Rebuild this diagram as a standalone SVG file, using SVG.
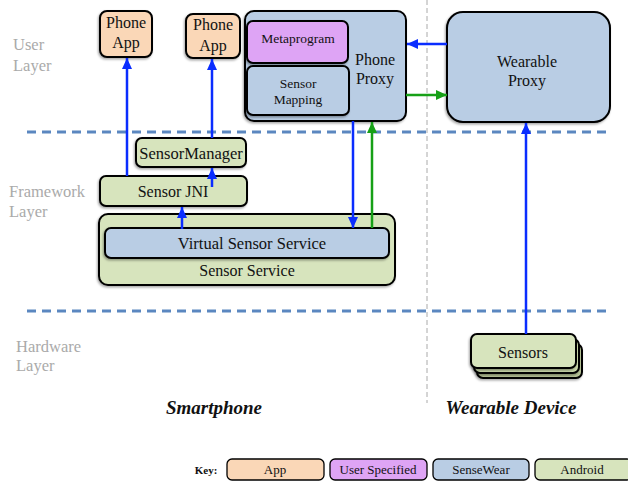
<svg xmlns="http://www.w3.org/2000/svg" width="628" height="483" viewBox="0 0 628 483">
  <style>
    .box { stroke: #000; stroke-width: 2; filter: url(#shade); }
    .app { fill: #fad7b7; }
    .user { fill: #dea4f5; }
    .sw { fill: #b9cde4; }
    .and { fill: #d7e4bd; }
    .t { font-family: "Liberation Serif", "Times New Roman", serif; fill: #111; text-anchor: middle; }
    .layer { font-family: "Liberation Serif", "Times New Roman", serif; fill: #aaa; font-size: 16.5px; }
    .sep { stroke: #5b87c0; stroke-width: 3; stroke-dasharray: 9 6; fill: none; }
    .blue { stroke: #0a2dff; stroke-width: 2.5; fill: none; }
    .green { stroke: #17a017; stroke-width: 2.5; fill: none; }
    .dev { font-family: "Liberation Serif", "Times New Roman", serif; font-size: 19px; font-weight: bold; font-style: italic; text-anchor: middle; fill: #111; }
    .keybox { stroke: #000; stroke-width: 1.3; }
  </style>
  <defs>
    <filter id="shade" x="-10%" y="-10%" width="130%" height="130%">
      <feDropShadow dx="-1" dy="1.5" stdDeviation="1" flood-color="#000" flood-opacity="0.35"/>
    </filter>
    <marker id="hb" markerUnits="userSpaceOnUse" markerWidth="12" markerHeight="12" viewBox="0 0 12 12" refX="11" refY="6" orient="auto">
      <path d="M0,1 L11,6 L0,11 Z" fill="#0a2dff"/>
    </marker>
    <marker id="hg" markerUnits="userSpaceOnUse" markerWidth="12" markerHeight="12" viewBox="0 0 12 12" refX="11" refY="6" orient="auto">
      <path d="M0,1 L11,6 L0,11 Z" fill="#17a017"/>
    </marker>
  </defs>

  <!-- layer separators and device divider -->
  <line class="sep" x1="27" y1="132" x2="612" y2="132"/>
  <line class="sep" x1="27" y1="311" x2="612" y2="311"/>
  <line x1="427" y1="0" x2="427" y2="403" stroke="#aaa" stroke-width="1" stroke-dasharray="5 3"/>

  <!-- layer labels -->
  <text class="layer" x="13" y="50">User</text>
  <text class="layer" x="13" y="71">Layer</text>
  <text class="layer" x="9" y="197">Framework</text>
  <text class="layer" x="9" y="217">Layer</text>
  <text class="layer" x="16" y="352">Hardware</text>
  <text class="layer" x="16" y="371">Layer</text>

  <g id="phone-app-1">
    <rect class="box app" x="100" y="11" width="52" height="46" rx="7"/>
    <text class="t" x="126" y="28" font-size="16">Phone</text>
    <text class="t" x="126" y="48" font-size="16">App</text>
  </g>
  <g id="phone-app-2">
    <rect class="box app" x="186" y="14" width="54" height="44" rx="7"/>
    <text class="t" x="213" y="30" font-size="16">Phone</text>
    <text class="t" x="213" y="51" font-size="16">App</text>
  </g>

  <g id="phone-proxy">
    <rect class="box sw" x="245" y="11" width="161" height="110" rx="9"/>
    <text class="t" x="375" y="65" font-size="16">Phone</text>
    <text class="t" x="375" y="84" font-size="16">Proxy</text>
  </g>
  <g id="metaprogram">
    <rect class="box user" x="247" y="21" width="101" height="42" rx="6"/>
    <text class="t" x="298" y="43" font-size="13.5">Metaprogram</text>
  </g>
  <g id="sensor-mapping">
    <rect class="box sw" x="247" y="66" width="102" height="49" rx="6"/>
    <text class="t" x="298" y="88" font-size="13.5">Sensor</text>
    <text class="t" x="298" y="104" font-size="13.5">Mapping</text>
  </g>

  <g id="wearable-proxy">
    <rect class="box sw" x="447" y="12" width="163" height="110" rx="16"/>
    <text class="t" x="527" y="67" font-size="16">Wearable</text>
    <text class="t" x="527" y="86" font-size="16">Proxy</text>
  </g>

  <g id="sensor-manager">
    <rect class="box and" x="136" y="138" width="110" height="29" rx="6"/>
    <text class="t" x="191" y="159" font-size="16.5">SensorManager</text>
  </g>
  <g id="sensor-jni">
    <rect class="box and" x="100" y="176" width="147" height="30" rx="6"/>
    <text class="t" x="173" y="197" font-size="16">Sensor JNI</text>
  </g>
  <g id="sensor-service">
    <rect class="box and" x="99" y="214" width="296" height="71" rx="9"/>
    <text class="t" x="247" y="276" font-size="16">Sensor Service</text>
  </g>
  <g id="virtual-sensor-service">
    <rect class="box sw" x="105" y="228" width="284" height="30" rx="6"/>
    <text class="t" x="252" y="249" font-size="16.5">Virtual Sensor Service</text>
  </g>

  <g id="sensors">
    <rect class="box" fill="#b7c497" x="477" y="344" width="105" height="34" rx="6"/>
    <rect class="box" fill="#c8d6a9" x="474" y="339" width="105" height="34" rx="6"/>
    <rect class="box and" x="471" y="334" width="105" height="34" rx="6"/>
    <text class="t" x="523" y="358" font-size="16">Sensors</text>
  </g>

  <g id="connectors">
    <line class="blue" x1="127" y1="176" x2="127" y2="58" marker-end="url(#hb)"/>
    <line class="blue" x1="212" y1="138" x2="212" y2="59" marker-end="url(#hb)"/>
    <line class="blue" x1="212" y1="187" x2="212" y2="168" marker-end="url(#hb)"/>
    <line class="blue" x1="182" y1="229" x2="182" y2="207" marker-end="url(#hb)"/>
    <line class="blue" x1="353" y1="121" x2="353" y2="228" marker-end="url(#hb)"/>
    <line class="green" x1="372" y1="228" x2="372" y2="122" marker-end="url(#hg)"/>
    <line class="blue" x1="447" y1="44" x2="407" y2="44" marker-end="url(#hb)"/>
    <line class="green" x1="406" y1="95" x2="447" y2="95" marker-end="url(#hg)"/>
    <line class="blue" x1="526" y1="334" x2="526" y2="123" marker-end="url(#hb)"/>
  </g>

  <!-- device captions -->
  <text class="dev" x="214" y="414">Smartphone</text>
  <text class="dev" x="511" y="414">Wearable Device</text>

  <!-- key -->
  <g id="key">
    <text class="t" x="206" y="474" font-size="11" font-weight="bold">Key:</text>
    <rect class="app keybox" x="227" y="459" width="97" height="21" rx="5"/>
    <text class="t" x="275" y="474" font-size="13">App</text>
    <rect class="user keybox" x="330" y="459" width="97" height="21" rx="5"/>
    <text class="t" x="378" y="474" font-size="13">User Specified</text>
    <rect class="sw keybox" x="433" y="459" width="96" height="21" rx="5"/>
    <text class="t" x="481" y="474" font-size="13">SenseWear</text>
    <rect class="and keybox" x="535" y="459" width="97" height="21" rx="5"/>
    <text class="t" x="582" y="474" font-size="13">Android</text>
  </g>
</svg>
